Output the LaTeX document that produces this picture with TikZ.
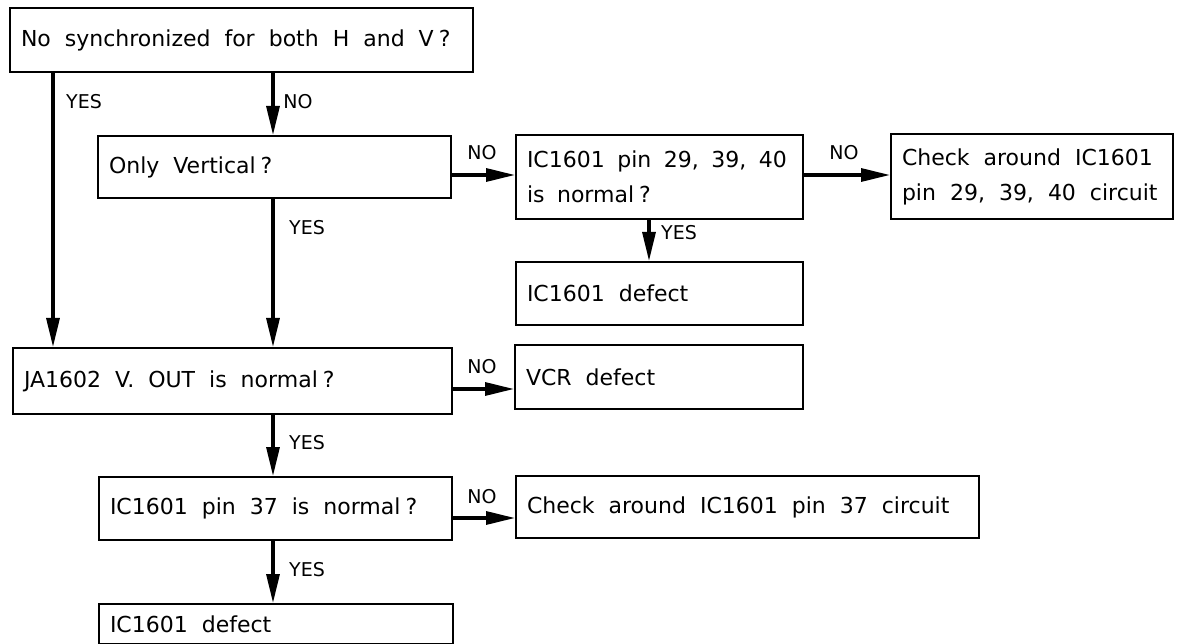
\documentclass[tikz,border=0pt]{standalone}
\usepackage{fontspec}
\setmainfont{DejaVu Sans}
\usetikzlibrary{arrows.meta}
\newcommand{\qm}{\kern5pt?}
\newcommand{\bxfont}{\fontsize{22}{35}\selectfont}
\newcommand{\ws}{\spaceskip=14pt\relax}
\newcommand{\wn}{\spaceskip=12.5pt\relax}
\begin{document}
\begin{tikzpicture}[x=1pt,y=-1pt,
  box/.style={draw, line width=2pt, rectangle, anchor=north west, inner xsep=11pt, inner ysep=0pt, align=left, font=\bxfont},
  lbl/.style={font=\fontsize{19}{19}\selectfont, inner sep=0pt},
  arr/.style={line width=3.2pt, -{Triangle[length=29pt,width=13pt]}}
]
\useasboundingbox (0,0) rectangle (1178,644);

\node[box, minimum width=463pt, text width=441pt, minimum height=64pt] (q1) at (9,7) {\ws No synchronized for both H and V\qm};
\node[box, minimum width=353pt, text width=331pt, minimum height=62pt] (q2) at (97,135) {\ws Only Vertical\qm};
\node[box, minimum width=287pt, text width=265pt, minimum height=84pt] (q3) at (515,134) {\wn IC1601 pin 29, 39, 40\\\wn is normal\qm};
\node[box, minimum width=282pt, text width=260pt, minimum height=85pt] (r1) at (890,133) {\ws Check around IC1601\\\ws pin 29, 39, 40 circuit};
\node[box, minimum width=287pt, text width=265pt, minimum height=63pt] (r2) at (515,261) {\ws IC1601 defect};
\node[box, minimum width=439pt, text width=417pt, minimum height=66pt] (q4) at (12,347) {\ws JA1602 V. OUT is normal\qm};
\node[box, minimum width=288pt, text width=266pt, minimum height=64pt] (r3) at (514,344) {\ws VCR defect};
\node[box, minimum width=353pt, text width=331pt, minimum height=63pt] (q5) at (98,476) {\ws IC1601 pin 37 is normal\qm};
\node[box, minimum width=463pt, text width=441pt, minimum height=62pt] (r4) at (515,475) {\ws Check around IC1601 pin 37 circuit};
\node[box, minimum width=354pt, text width=332pt, minimum height=40pt] (q6) at (98,603) {\ws IC1601 defect};

\coordinate (xa) at (53,0);
\coordinate (xb) at (273,0);
\coordinate (xc) at (649,0);
\coordinate (ya) at (0,175);
\coordinate (yb) at (0,389);
\coordinate (yc) at (0,518);

\draw[arr] (q1.south -| xa) -- (q4.north -| xa);
\draw[arr] (q1.south -| xb) -- (q2.north -| xb);
\draw[arr] (q2.east |- ya) -- (q3.west |- ya);
\draw[arr] (q3.east |- ya) -- (r1.west |- ya);
\draw[arr] (q3.south -| xc) -- (r2.north -| xc);
\draw[arr] (q2.south -| xb) -- (q4.north -| xb);
\draw[arr] (q4.east |- yb) -- (r3.west |- yb);
\draw[arr] (q4.south -| xb) -- (q5.north -| xb);
\draw[arr] (q5.east |- yc) -- (r4.west |- yc);
\draw[arr] (q5.south -| xb) -- (q6.north -| xb);

\node[lbl] (l1) at (84,102) {YES};
\node[lbl] (l2) at (298,102) {NO};
\node[lbl] (l3) at (482,153) {NO};
\node[lbl] (l4) at (844,153) {NO};
\node[lbl] (l5) at (679,233) {YES};
\node[lbl] (l6) at (307,228) {YES};
\node[lbl] (l7) at (482,367) {NO};
\node[lbl] (l8) at (307,443) {YES};
\node[lbl] (l9) at (482,497) {NO};
\node[lbl] (l10) at (307,570) {YES};
\end{tikzpicture}
\end{document}
